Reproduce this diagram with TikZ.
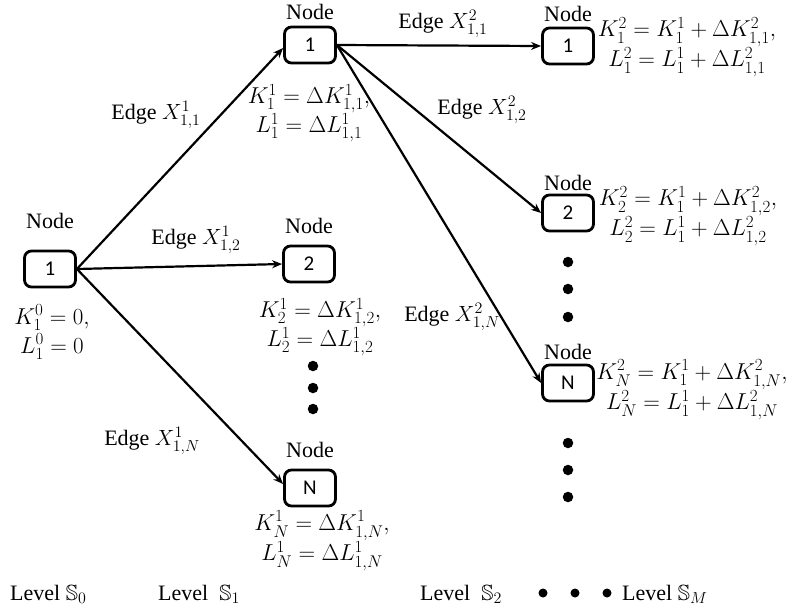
\documentclass[tikz,border=0pt]{standalone}
\usepackage{fix-cm}
\usepackage{amssymb}
\usepackage{fontspec}
\setmainfont{Liberation Serif}
\newfontfamily\boxfont{Carlito}
\DeclareMathSizes{23}{23}{17}{13}
\DeclareMathSizes{22}{22}{16}{12}
\usetikzlibrary{arrows.meta}
\begin{document}
\begin{tikzpicture}[x=1pt,y=-1pt,
  nbox/.style={draw, line width=2.8pt, rounded corners=7pt, minimum width=51pt, minimum height=36pt, inner sep=0pt, font=\boxfont\fontsize{21}{24}\selectfont},
  lbl/.style={font=\fontsize{22}{26}\selectfont, inner sep=0pt},
  eq/.style={font=\fontsize{23}{29}\selectfont, inner sep=0pt, align=center},
  eqr/.style={font=\fontsize{23}{24}\selectfont, inner sep=0pt, align=center},
  arr/.style={-{Stealth[length=10pt,width=8pt]}, line width=2.2pt},
  bigdot/.style={circle, fill, inner sep=0pt, minimum size=10.5pt}
]
\useasboundingbox (0,0) rectangle (786,614);

% nodes
\node[nbox] (r) at (50,269) {1};
\node[nbox] (a1) at (310,45) {1};
\node[nbox] (a2) at (309,264) {2};
\node[nbox] (aN) at (310,488) {N};
\node[nbox] (b1) at (568,46) {1};
\node[nbox] (b2) at (568,213) {2};
\node[nbox] (bN) at (568,383) {N};

% "Node" labels
\node[lbl] (tr) at (50,221) {Node};
\node[lbl] (ta1) at (310,12) {Node};
\node[lbl] (ta2) at (309,226) {Node};
\node[lbl] (taN) at (310,450) {Node};
\node[lbl] (tb1) at (568,14) {Node};
\node[lbl] (tb2) at (568,183) {Node};
\node[lbl] (tbN) at (568,352) {Node};

% connectors
\draw[arr] (r.east) -- ([yshift=-3pt]a1.west);
\draw[arr] (r.east) -- (a2.west);
\draw[arr] (r.east) -- ([yshift=4pt]aN.west);
\draw[arr] (a1.east) -- (b1.west);
\draw[arr] (a1.east) -- (b2.west);
\draw[arr] (a1.east) -- (bN.west);

% edge labels
\node[lbl] (e11) at (156,115) {Edge \(X^1_{1,1}\)};
\node[lbl] (e12) at (196,240) {Edge \(X^1_{1,2}\)};
\node[lbl] (e1N) at (152,441) {Edge \(X^1_{1,N}\)};
\node[lbl] (e21) at (443,24) {Edge \(X^2_{1,1}\)};
\node[lbl] (e22) at (482,110) {Edge \(X^2_{1,2}\)};
\node[lbl] (e2N) at (452,317) {Edge \(X^2_{1,N}\)};

% equations
\node[eq] (qr) at (52,332) {\(K^0_1=0,\)\\\(L^0_1=0\)};
\node[eq] (qa1) at (309,113) {\(K^1_1=\Delta K^1_{1,1},\)\\\(L^1_1=\Delta L^1_{1,1}\)};
\node[eq] (qa2) at (320,327) {\(K^1_2=\Delta K^1_{1,2},\)\\\(L^1_2=\Delta L^1_{1,2}\)};
\node[eq] (qaN) at (322,541) {\(K^1_N=\Delta K^1_{1,N},\)\\\(L^1_N=\Delta L^1_{1,N}\)};
\node[eqr] (qb1) at (687,47) {\(K^2_1=K^1_1+\Delta K^2_{1,1},\)\\\(L^2_1=L^1_1+\Delta L^2_{1,1}\)};
\node[eqr] (qb2) at (688,216) {\(K^2_2=K^1_1+\Delta K^2_{1,2},\)\\\(L^2_2=L^1_1+\Delta L^2_{1,2}\)};
\node[eqr] (qbN) at (692,390) {\(K^2_N=K^1_1+\Delta K^2_{1,N},\)\\\(L^2_N=L^1_1+\Delta L^2_{1,N}\)};

% vertical dots
\node[bigdot] (d1) at (313,366) {};
\node[bigdot] (d2) at (313,388) {};
\node[bigdot] (d3) at (313,409) {};
\node[bigdot] (d4) at (568,262) {};
\node[bigdot] (d5) at (568,289) {};
\node[bigdot] (d6) at (568,317) {};
\node[bigdot] (d7) at (568,443) {};
\node[bigdot] (d8) at (568,470) {};
\node[bigdot] (d9) at (568,497) {};

% levels
\node[lbl, anchor=base west] (l0) at (10,600) {Level \(\mathbb{S}_0\)};
\node[lbl, anchor=base west] (l1) at (158,600) {Level\ \ \(\mathbb{S}_1\)};
\node[lbl, anchor=base west] (l2) at (420,600) {Level\ \ \(\mathbb{S}_2\)};
\node[lbl, anchor=base west] (lM) at (622,600) {Level \(\mathbb{S}_M\)};
\node[bigdot, minimum size=9pt] (h1) at (543,593) {};
\node[bigdot, minimum size=9pt] (h2) at (575,593) {};
\node[bigdot, minimum size=9pt] (h3) at (607,593) {};
\end{tikzpicture}
\end{document}
